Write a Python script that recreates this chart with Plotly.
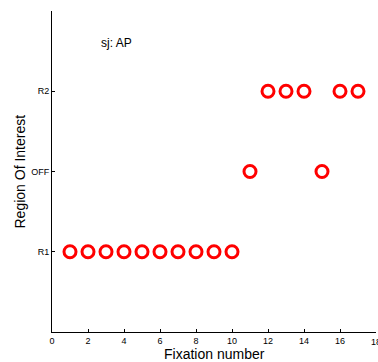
import plotly.graph_objects as go

fixation = [1, 2, 3, 4, 5, 6, 7, 8, 9, 10, 11, 12, 13, 14, 15, 16, 17]
region = [1, 1, 1, 1, 1, 1, 1, 1, 1, 1, 2, 3, 3, 3, 2, 3, 3]
region_vals = [1, 2, 3]
region_labels = ["R1", "OFF", "R2"]
x_ticks = [0, 2, 4, 6, 8, 10, 12, 14, 16, 18]

fig = go.Figure()
fig.add_trace(go.Scatter(
    x=fixation, y=region, mode="markers",
    marker=dict(symbol="circle-open", size=12, color="red",
                line=dict(color="red", width=3)),
    showlegend=False, cliponaxis=False,
))

font = "Liberation Sans, Arial, sans-serif"
fig.update_layout(
    width=378, height=362,
    margin=dict(l=52, r=2, t=11, b=30),
    paper_bgcolor="white", plot_bgcolor="white",
    font=dict(family=font, color="black"),
    xaxis=dict(range=[0, 18], tickvals=x_ticks, showgrid=False, zeroline=False,
               showline=True, linecolor="black", linewidth=1,
               ticks="inside", ticklen=3, tickcolor="black",
               tickfont=dict(size=9, family=font)),
    yaxis=dict(range=[0, 4], tickvals=region_vals, ticktext=region_labels,
               showgrid=False, zeroline=False,
               showline=True, linecolor="black", linewidth=1,
               ticks="inside", ticklen=3, tickcolor="black",
               tickfont=dict(size=9, family=font)),
    annotations=[
        dict(text="sj: AP", x=3.6, y=3.6, xref="x", yref="y", showarrow=False,
             xanchor="center", yanchor="middle",
             font=dict(size=12, family=font)),
        dict(text="18", x=18, xref="x", y=0, yref="paper", yshift=-10,
             xanchor="center", yanchor="middle", showarrow=False,
             font=dict(size=9, family=font)),
        dict(text="Fixation number", x=0.5, xref="paper", y=0, yref="paper",
             yshift=-22, xanchor="center", yanchor="middle", showarrow=False,
             font=dict(size=14, family=font)),
        dict(text="Region Of Interest", x=0, xref="paper", y=0.5, yref="paper",
             xshift=-33, xanchor="center", yanchor="middle", textangle=-90,
             showarrow=False, font=dict(size=14, family=font)),
    ],
)

fig.write_html("out.html")
